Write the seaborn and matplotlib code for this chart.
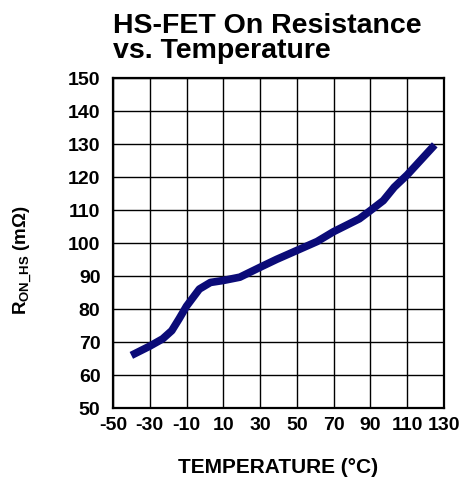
import pandas as pd
import matplotlib.pyplot as plt
import seaborn as sns

# Data
temperature = [-40, -30, -23, -18, -14, -10, -3, 3, 10, 19, 30, 39, 50, 61, 70, 84, 90, 97, 103, 110, 125]
r_on_hs = [65.9, 68.7, 70.9, 73.4, 77.0, 80.8, 86.0, 88.0, 88.6, 89.6, 92.6, 95.0, 97.7, 100.4, 103.4, 107.3, 109.8, 112.8, 116.9, 120.6, 129.7]
x_ticks = [-50, -30, -10, 10, 30, 50, 70, 90, 110, 130]
y_ticks = [50, 60, 70, 80, 90, 100, 110, 120, 130, 140, 150]

df = pd.DataFrame({'temp': temperature, 'r': r_on_hs})

sns.set_style('white')
plt.rcParams['font.family'] = ['Liberation Sans', 'DejaVu Sans']
plt.rcParams['mathtext.fontset'] = 'custom'
plt.rcParams['mathtext.rm'] = 'Liberation Sans:bold'
plt.rcParams['axes.unicode_minus'] = False
plt.rcParams['text.color'] = 'black'
plt.rcParams['axes.labelcolor'] = 'black'

fig = plt.figure(figsize=(4.61, 4.81), dpi=100)
ax = fig.add_axes([0.245, 0.150, 0.718, 0.686])

sns.lineplot(data=df, x='temp', y='r', ax=ax, color='#0b0b78', linewidth=5.5,
             solid_capstyle='butt', zorder=3)

ax.set_xlim(-50, 130)
ax.set_ylim(50, 150)
ax.set_xticks(x_ticks)
ax.set_yticks(y_ticks)
ax.tick_params(axis='both', length=0, labelsize=14, colors='black')
ax.tick_params(axis='x', pad=6)
ax.tick_params(axis='y', pad=9)
for lbl in ax.get_xticklabels() + ax.get_yticklabels():
    lbl.set_fontweight('bold')
ax.grid(True, color='black', linewidth=1.0)
for s in ax.spines.values():
    s.set_color('black')
    s.set_linewidth(1.6)

ax.set_xlabel('TEMPERATURE (°C)', fontsize=15, fontweight='bold', labelpad=17, color='black')
ax.set_ylabel(r'R$_{\mathregular{ON\_HS}}$ (mΩ)', fontsize=13.5, fontweight='bold',
              labelpad=24, y=0.45, color='black')
ax.set_title('HS-FET On Resistance\nvs. Temperature', fontsize=20.5, fontweight='bold',
             loc='left', x=0.0, pad=15, linespacing=0.95, color='black')

plt.savefig('out.png', dpi=100)
